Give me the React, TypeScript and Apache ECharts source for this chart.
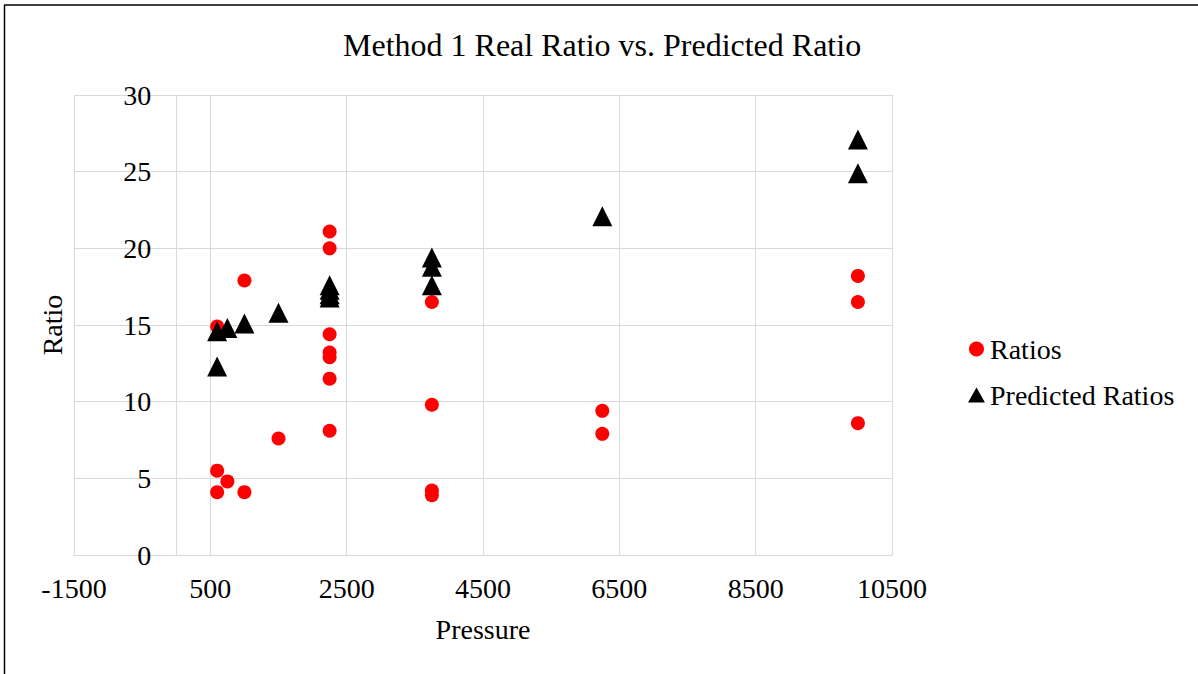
import React, { useEffect, useRef } from "react";
import * as echarts from "echarts";

// Measured ratios at each pressure
const ratioPressures = [600, 600, 600, 750, 1000, 1000, 1500, 2250, 2250, 2250, 2250, 2250, 2250, 2250, 3750, 3750, 3750, 3750, 6250, 6250, 10000, 10000, 10000];
const ratioValues = [14.9, 5.5, 4.1, 4.8, 17.9, 4.1, 7.6, 21.1, 20.0, 14.4, 13.2, 12.9, 11.5, 8.1, 16.5, 9.8, 4.2, 3.9, 9.4, 7.9, 18.2, 16.5, 8.6];

// Ratios predicted by Method 1
const predictedPressures = [600, 600, 750, 1000, 1500, 2250, 2250, 2250, 2250, 3750, 3750, 3750, 6250, 10000, 10000];
const predictedValues = [14.6, 12.3, 14.8, 15.1, 15.8, 17.6, 17.3, 17.0, 16.8, 19.4, 18.8, 17.6, 22.1, 27.1, 24.9];

const seriesNames = ["Ratios", "Predicted Ratios"];
const titleText = "Method 1 Real Ratio vs. Predicted Ratio";
const xAxisName = "Pressure";
const yAxisName = "Ratio";

const FONT = '"Liberation Serif", "Times New Roman", serif';
const GRID = "#d9d9d9";

// plot area placement
const GRID_LEFT = 74;
const GRID_WIDTH = 818;
const X_MIN = -1500;
const X_MAX = 10500;
// y labels sit beside the vertical axis at pressure 0, inside the plot area
const ZERO_OFFSET = (0 - X_MIN) / (X_MAX - X_MIN) * GRID_WIDTH;

export default function App() {
  const ref = useRef<HTMLDivElement>(null);

  useEffect(() => {
    if (!ref.current) return;
    const chart = echarts.init(ref.current, undefined, { renderer: "svg" });
    const pair = (xs: number[], ys: number[]) => xs.map((x, i) => [x, ys[i]]);
    const plain = (v: number) => String(v);

    chart.setOption({
      animation: false,
      backgroundColor: "#fff",
      textStyle: { fontFamily: FONT },
      title: {
        text: titleText,
        left: 343,
        top: 29,
        padding: 0,
        textStyle: { fontFamily: FONT, fontSize: 32, fontWeight: "normal", color: "#000", lineHeight: 32 },
      },
      legend: {
        orient: "vertical",
        left: 968,
        top: 335,
        itemWidth: 17,
        itemHeight: 15,
        itemGap: 18,
        padding: 0,
        textStyle: { fontFamily: FONT, fontSize: 28, color: "#000", lineHeight: 28 },
        data: [
          { name: seriesNames[0], icon: "circle" },
          { name: seriesNames[1], icon: "triangle" },
        ],
      },
      grid: { left: GRID_LEFT, top: 95, width: GRID_WIDTH, height: 460, containLabel: false, outerBoundsMode: "none" },
      xAxis: {
        type: "value",
        min: X_MIN,
        max: X_MAX,
        interval: 2000,
        name: xAxisName,
        nameLocation: "middle",
        nameGap: 60,
        nameTextStyle: { fontFamily: FONT, fontSize: 28, color: "#000", lineHeight: 28 },
        axisLine: { show: true, onZero: false, lineStyle: { color: GRID, width: 1 } },
        axisTick: { show: false },
        axisLabel: { margin: 19, fontFamily: FONT, fontSize: 28, color: "#000", lineHeight: 28, formatter: plain },
        splitLine: { show: true, lineStyle: { color: GRID, width: 1 } },
      },
      yAxis: {
        type: "value",
        min: 0,
        max: 30,
        interval: 5,
        name: yAxisName,
        nameLocation: "middle",
        nameGap: 5,
        nameRotate: 90,
        nameTextStyle: { fontFamily: FONT, fontSize: 28, color: "#000", lineHeight: 28 },
        axisLine: { show: false, onZero: false },
        axisTick: { show: false },
        axisLabel: { margin: 25 - ZERO_OFFSET, fontFamily: FONT, fontSize: 28, color: "#000", lineHeight: 28, formatter: plain },
        splitLine: { show: true, lineStyle: { color: GRID, width: 1 } },
      },
      series: [
        {
          name: seriesNames[0],
          type: "scatter",
          symbol: "circle",
          symbolSize: 14,
          itemStyle: { color: "#ff0000", opacity: 1 },
          data: pair(ratioPressures, ratioValues),
          // vertical axis line at pressure 0
          markLine: {
            silent: true,
            symbol: "none",
            label: { show: false },
            lineStyle: { color: GRID, width: 1, type: "solid" },
            data: [{ xAxis: 0 }],
            z: 1,
          },
        },
        {
          name: seriesNames[1],
          type: "scatter",
          symbol: "triangle",
          symbolSize: [20, 20],
          itemStyle: { color: "#000000", opacity: 1 },
          data: pair(predictedPressures, predictedValues),
        },
      ],
      graphic: [
        // outer chart frame (top and left edges)
        { type: "line", shape: { x1: 4, y1: 5, x2: 1198, y2: 5 }, style: { stroke: "#000", lineWidth: 1.5 } },
        { type: "line", shape: { x1: 4.5, y1: 5, x2: 4.5, y2: 674 }, style: { stroke: "#000", lineWidth: 1.5 } },
      ],
    });

    return () => chart.dispose();
  }, []);

  return (
    <div
      ref={ref}
      style={{ position: "fixed", left: 0, top: 0, width: 1198, height: 674, background: "#fff" }}
    />
  );
}
